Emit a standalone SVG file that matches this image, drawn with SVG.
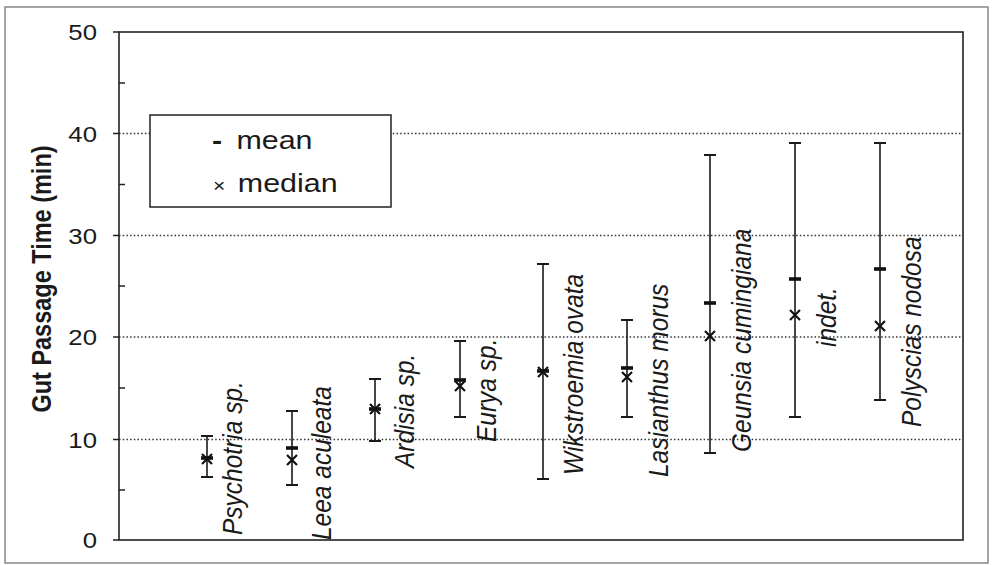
<svg xmlns="http://www.w3.org/2000/svg" width="992" height="565" viewBox="0 0 992 565">
<style>
text{font-family:"Liberation Sans",Arial,sans-serif;fill:#1a1a1a}
.tick{font-size:22px}
.lab{font-size:24.5px;font-style:italic}
.ttl{font-size:23.5px;font-weight:bold}
.leg{font-size:26px}
.grid{stroke:#333;stroke-width:1.3;stroke-dasharray:1.5 2.2;fill:none}
.ax{stroke:#222;stroke-width:1.6;fill:none}
.bar{stroke:#1a1a1a;stroke-width:1.6;fill:none}
.cap{stroke:#1a1a1a;stroke-width:2.2}
.mean{stroke:#111;stroke-width:3.6}
.med{stroke:#111;stroke-width:2.2;fill:none}
</style>
<defs>
<path id="cross" d="M-5,-5 L5,5 M-5,5 L5,-5" class="med"/>
<path id="mbar" d="M-6,0 H6" class="mean"/>
</defs>
<rect width="992" height="565" fill="#fff"/>
<rect id="frame" x="5" y="7" width="983" height="556" fill="none" stroke="#888" stroke-width="1.5"/>
<g id="grid">
<line class="grid" x1="119" y1="133.5" x2="963" y2="133.5"/>
<line class="grid" x1="119" y1="235.5" x2="963" y2="235.5"/>
<line class="grid" x1="119" y1="337" x2="963" y2="337"/>
<line class="grid" x1="119" y1="439.5" x2="963" y2="439.5"/>
</g>
<g id="axes">
<rect class="ax" x="119" y="32" width="844" height="508"/>
<path class="ax" d="M113,32H119M113,133.5H119M113,235.5H119M113,337H119M113,439.5H119M113,540H119"/>
<path class="ax" d="M119,83H125M119,184.5H125M119,286H125M119,388H125M119,490H125"/>
<text class="tick" text-anchor="end" transform="translate(97,40) scale(1.17,1)">50</text>
<text class="tick" text-anchor="end" transform="translate(97,141.5) scale(1.17,1)">40</text>
<text class="tick" text-anchor="end" transform="translate(97,243.5) scale(1.17,1)">30</text>
<text class="tick" text-anchor="end" transform="translate(97,345) scale(1.17,1)">20</text>
<text class="tick" text-anchor="end" transform="translate(97,447.5) scale(1.17,1)">10</text>
<text class="tick" text-anchor="end" transform="translate(97,548) scale(1.17,1)">0</text>
<text class="ttl" text-anchor="middle" transform="translate(51,279) scale(1.17,1) rotate(-90)">Gut Passage Time (min)</text>
</g>
<g id="legend">
<rect x="150" y="115" width="241" height="92" fill="#fff" stroke="#222" stroke-width="1.5"/>
<text class="leg" transform="translate(212,149) scale(1.17,1)"><tspan font-weight="bold">-</tspan><tspan dx="5"> mean</tspan></text>
<text class="leg" transform="translate(213,192) scale(1.17,1)"><tspan font-size="18px">×</tspan><tspan dx="3.5"> median</tspan></text>
</g>
<g id="psychotria">
<path class="bar" d="M207,436V477"/><path class="cap" d="M201,436H213M201,477H213"/>
<use href="#mbar" x="207" y="458"/><use href="#cross" x="207" y="459"/>
<text class="lab" transform="translate(242,535) scale(1.15,1) rotate(-90)">Psychotria sp.</text>
</g>
<g id="leea">
<path class="bar" d="M292,411V485"/><path class="cap" d="M286,411H298M286,485H298"/>
<use href="#mbar" x="292" y="448"/><use href="#cross" x="292" y="460"/>
<text class="lab" transform="translate(331,540) scale(1.15,1) rotate(-90)">Leea aculeata</text>
</g>
<g id="ardisia">
<path class="bar" d="M375,379V441"/><path class="cap" d="M369,379H381M369,441H381"/>
<use href="#mbar" x="375" y="409"/><use href="#cross" x="375" y="409"/>
<text class="lab" transform="translate(414,468) scale(1.15,1) rotate(-90)">Ardisia sp.</text>
</g>
<g id="eurya">
<path class="bar" d="M460,341V417"/><path class="cap" d="M454,341H466M454,417H466"/>
<use href="#mbar" x="460" y="380"/><use href="#cross" x="460" y="386"/>
<text class="lab" transform="translate(496,442) scale(1.15,1) rotate(-90)">Eurya sp.</text>
</g>
<g id="wikstroemia">
<path class="bar" d="M543,264V479"/><path class="cap" d="M537,264H549M537,479H549"/>
<use href="#mbar" x="543" y="371"/><use href="#cross" x="543" y="372"/>
<text class="lab" transform="translate(583,475) scale(1.15,1) rotate(-90)">Wikstroemia ovata</text>
</g>
<g id="lasianthus">
<path class="bar" d="M627,320V417"/><path class="cap" d="M621,320H633M621,417H633"/>
<use href="#mbar" x="627" y="368"/><use href="#cross" x="627" y="377"/>
<text class="lab" transform="translate(668,477) scale(1.15,1) rotate(-90)">Lasianthus morus</text>
</g>
<g id="geunsia">
<path class="bar" d="M710,155V453"/><path class="cap" d="M704,155H716M704,453H716"/>
<use href="#mbar" x="710" y="303"/><use href="#cross" x="710" y="336"/>
<text class="lab" transform="translate(751,452) scale(1.15,1) rotate(-90)">Geunsia cumingiana</text>
</g>
<g id="indet">
<path class="bar" d="M795,143V417"/><path class="cap" d="M789,143H801M789,417H801"/>
<use href="#mbar" x="795" y="279"/><use href="#cross" x="795" y="315"/>
<text class="lab" transform="translate(836,347) scale(1.15,1) rotate(-90)">indet.</text>
</g>
<g id="polyscias">
<path class="bar" d="M880,143V400"/><path class="cap" d="M874,143H886M874,400H886"/>
<use href="#mbar" x="880" y="269"/><use href="#cross" x="880" y="326"/>
<text class="lab" transform="translate(921,427) scale(1.15,1) rotate(-90)">Polyscias nodosa</text>
</g>
</svg>
